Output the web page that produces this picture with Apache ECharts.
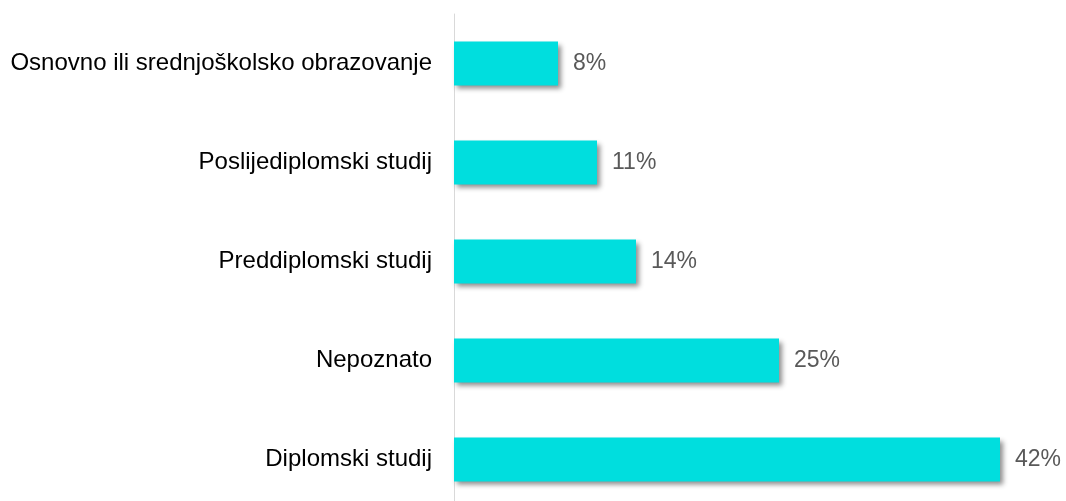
<!DOCTYPE html>
<html>
<head>
<meta charset="utf-8">
<script src="https://cdn.jsdelivr.net/npm/echarts@6/dist/echarts.min.js"></script>
<style>
  html, body { margin: 0; padding: 0; background: #ffffff; overflow: hidden; }
  #chart { width: 1066px; height: 520px; }
</style>
</head>
<body>
<div id="chart"></div>
<script>
// categories top to bottom
const categories = [
  'Osnovno ili srednjoškolsko obrazovanje',
  'Poslijediplomski studij',
  'Preddiplomski studij',
  'Nepoznato',
  'Diplomski studij',
];
const shares = [8, 11, 14, 25, 42];

const chart = echarts.init(document.getElementById('chart'));

const option = {
  animation: false,
  grid: {
    left: 454,
    top: 14,
    width: 598,
    height: 495,
    containLabel: false,
  },
  xAxis: {
    type: 'value',
    min: 0,
    max: 46,
    show: false,
  },
  yAxis: {
    type: 'category',
    data: categories,
    inverse: true,
    axisTick: { show: false },
    axisLine: {
      lineStyle: { color: '#d9d9d9', width: 1 },
    },
    axisLabel: {
      margin: 22,
      color: '#000000',
      fontSize: 24,
      fontFamily: 'Liberation Sans, Arial, sans-serif',
    },
  },
  series: [{
    type: 'bar',
    data: shares,
    barWidth: 44,
    itemStyle: {
      color: '#00dede',
      shadowColor: 'rgba(0,0,0,0.45)',
      shadowBlur: 5,
      shadowOffsetX: 3,
      shadowOffsetY: 3,
    },
    label: {
      show: true,
      position: 'right',
      distance: 15,
      formatter: '{c}%',
      color: '#595959',
      fontSize: 23,
      fontFamily: 'Liberation Sans, Arial, sans-serif',
    },
  }],
};

chart.setOption(option);
</script>
</body>
</html>
